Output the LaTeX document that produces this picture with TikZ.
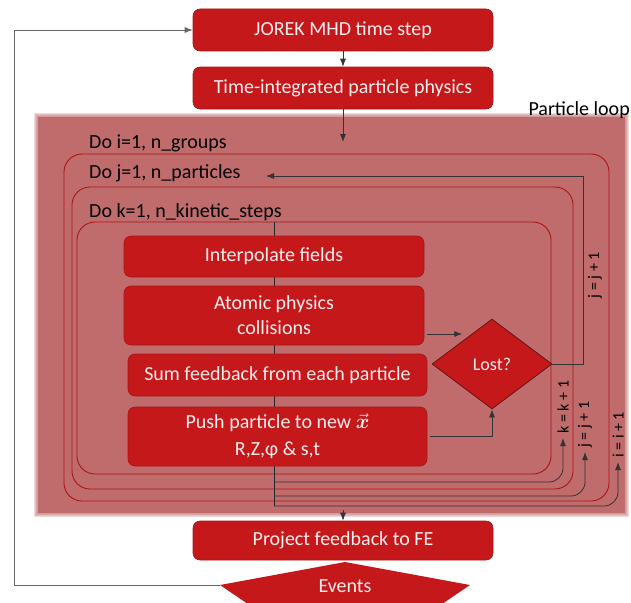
\documentclass[tikz,border=0pt]{standalone}
\usepackage{amssymb,amsmath}
\usepackage{fontspec}
\setmainfont{Carlito}
\usetikzlibrary{arrows.meta,backgrounds}
\usepgflibrary{shapes}
\definecolor{boxred}{RGB}{196,24,26}
\definecolor{edgered}{RGB}{165,22,24}
\definecolor{boxtext}{RGB}{252,236,236}
\definecolor{loopbg}{RGB}{192,108,108}
\definecolor{loopline}{RGB}{168,22,24}
\definecolor{lostedge}{RGB}{105,20,20}

\begin{document}
\begin{tikzpicture}[x=1pt,y=-1pt,join=round, % particle loop flow chart
        redbox/.style={rectangle,rounded corners=7pt,fill=boxred,draw=edgered,line width=0.6pt,
                text=boxtext,font=\fontsize{20}{25}\selectfont,align=center,inner sep=0pt},
        loopbox/.style={draw=loopline,line width=0.9pt,rounded corners=18pt},
        flow/.style={draw=black!80,line width=0.8pt,-{Latex[length=8pt,width=6pt]}},
        dolabel/.style={anchor=west,inner sep=0pt,font=\fontsize{20}{24}\selectfont},
        inclabel/.style={rotate=90,anchor=west,inner sep=1pt,font=\fontsize{16}{18}\selectfont}]
        \useasboundingbox (0,0) rectangle (631,602);
        % shaded particle loop area
        \foreach \g in {4,3,2,1}
                \fill[loopbg,opacity=0.25] (38-\g,117-\g) rectangle (625+\g,513+\g);
        \fill[loopbg] (38,117) rectangle (625,513);
        \node[anchor=east,inner sep=0pt,font=\fontsize{20}{24}\selectfont] (ploop) at (630,110) {Particle loop};
        % nested loops
        \draw[loopbox] (64,154) rectangle (609,501);
        \draw[loopbox] (72,187) rectangle (573,489);
        \draw[loopbox] (77,222) rectangle (551,474);
        \node[dolabel] (doi) at (89,143) {Do i=1, n\_groups};
        \node[dolabel] (doj) at (89,173) {Do j=1, n\_particles};
        \node[dolabel] (dok) at (89,212) {Do k=1, n\_kinetic\_steps};
        \coordinate (spinetop) at (274,222);
        \coordinate (kback) at (274,482);
        \coordinate (jback) at (274,496);
        \coordinate (iback) at (274,506);
        \draw[black!85,line width=0.8pt] (spinetop) -- (iback);
        % top and bottom boxes
        \node[redbox,minimum width=300pt,minimum height=42pt] (jorek) at (343,30) {JOREK MHD time step};
        \node[redbox,minimum width=300pt,minimum height=42pt] (tip) at (343,88) {Time-integrated particle physics};
        \node[redbox,minimum width=300pt,minimum height=39pt] (project) at (343,540.5) {Project feedback to FE};
        \fill[boxred] (345,562) -- (470,585) -- (345,670) -- (220,585) -- cycle;
        \node[text=boxtext,font=\fontsize{20}{24}\selectfont] (events) at (345,586) {Events};
        \coordinate (evleft) at (220,585);
        % inner steps
        \node[redbox,minimum width=300pt,minimum height=41pt] (interp) at (274,256.5) {Interpolate fields};
        \node[redbox,minimum width=300pt,minimum height=59pt] (atomic) at (274,315.5) {Atomic physics\\collisions};
        \node[redbox,minimum width=299pt,minimum height=42pt] (sumfb) at (277.5,375) {Sum feedback from each particle};
        \node[redbox,minimum width=299pt,minimum height=59pt,font=\fontsize{20}{27}\selectfont] (push) at (277.5,436.5)
                {Push particle to new $\vec{\boldsymbol{x}}$\\R,Z,φ \& s,t};
        \node[diamond,fill=boxred,draw=lostedge,line width=0.8pt,minimum width=120pt,minimum height=90pt,
                inner sep=0pt,text=boxtext,font=\fontsize{18}{20}\selectfont] (lost) at (492,364) {Lost?};
        % arrows
        \coordinate (loopin) at (343,142);
        \coordinate (loopout) at (343,510);
        \coordinate (jtip) at (266,176);
        \draw[flow] (jorek) -- (tip);
        \draw[flow] (tip) -- (loopin);
        \draw[flow] (loopout) -- (project);
        \draw[flow,draw=black!60] (evleft) -- (14,585) |- (jorek.west);
        \draw[flow] ([xshift=3pt,yshift=-18.5pt]atomic.east) -- ++(35,0);
        \draw[flow] ([xshift=3pt]push.east) -| (lost.south);
        \draw[flow] (lost.east) -- (583,364) |- (jtip);
        \node[inclabel,anchor=center] (jinc) at (595,275) {j = j + 1};
        \draw[flow,rounded corners=14pt] (kback) -| (563,438);
        \draw[flow,rounded corners=14pt] (jback) -| (585,452);
        \draw[flow,rounded corners=14pt] (iback) -| (618,462);
        \node[inclabel] (kinc) at (563,435) {k = k + 1};
        \node[inclabel] (jinc2) at (585,449) {j = j + 1};
        \node[inclabel] (iinc) at (618,459) {i = i + 1};
\end{tikzpicture}
\end{document}
